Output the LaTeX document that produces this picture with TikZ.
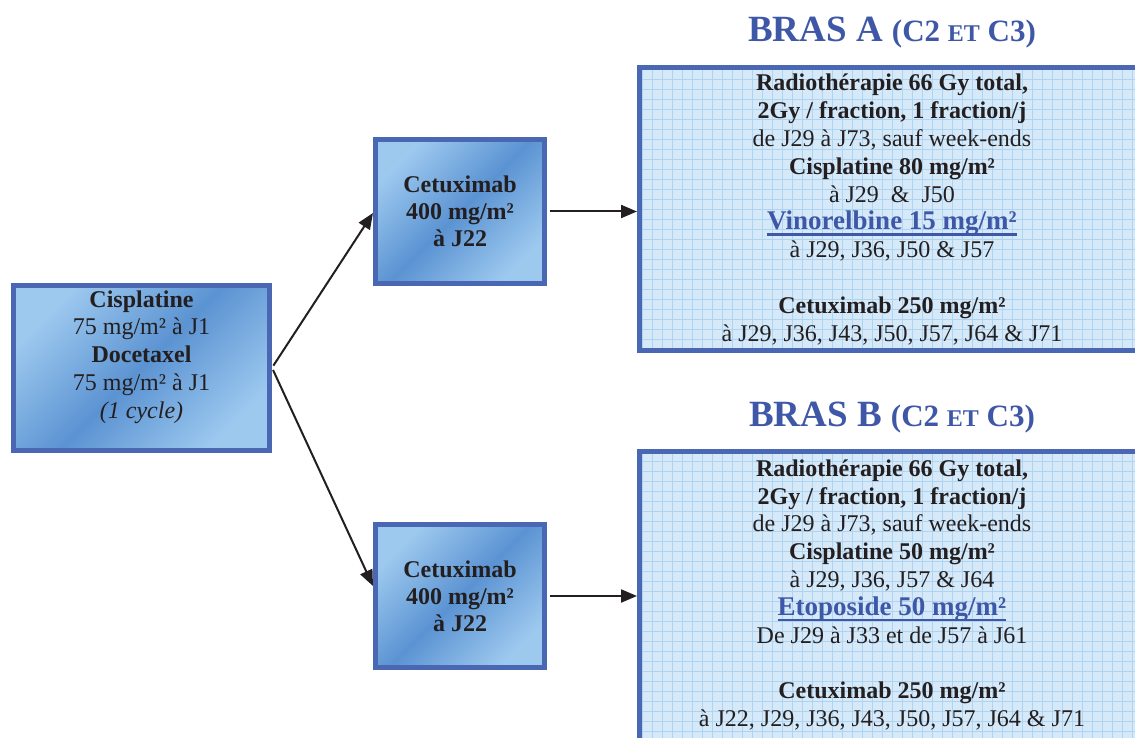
\documentclass[tikz,border=0pt]{standalone}
\usepackage{fontspec}
\setmainfont{Liberation Serif}
\usetikzlibrary{arrows.meta}
\definecolor{bord}{HTML}{4A67B4}
\definecolor{ttl}{HTML}{3E57A7}
\definecolor{lite}{HTML}{9DC9EF}
\definecolor{dark}{HTML}{5B93D2}
\definecolor{gfill}{HTML}{D6E9F9}
\definecolor{gline}{HTML}{AFD4F2}
\definecolor{gfine}{HTML}{CCE2F6}
\definecolor{ink}{HTML}{231F20}
\newsavebox\ulb
\newcommand\ulbox[1]{\sbox\ulb{#1}\rlap{\rule[-6pt]{\wd\ulb}{2.8pt}}\usebox\ulb}
\begin{document}
\begin{tikzpicture}[x=1pt,y=-1pt,
  shbox/.style={draw=bord, line width=5pt, top color=lite, bottom color=lite, middle color=dark, shading angle=45, inner sep=0pt, align=center, text=ink},
  gridbox/.style={draw=bord, line width=5pt, fill=gfill, inner sep=0pt, path picture={
     \draw[gfine, line width=0.4pt, xshift=5pt, yshift=5pt] ([shift={(-20pt,-20pt)}]path picture bounding box.south west) grid[step=10pt] ([shift={(20pt,20pt)}]path picture bounding box.north east);
     \draw[gline, line width=0.9pt] ([shift={(-20pt,-20pt)}]path picture bounding box.south west) grid[step=10pt] ([shift={(20pt,20pt)}]path picture bounding box.north east);}},
  txt/.style={align=center, inner sep=0pt, text=ink, font=\fontsize{24}{27.8}\selectfont},
  conn/.style={line width=2pt, draw=ink, shorten <=2.5pt, shorten >=0pt, -{Triangle[length=16pt,width=13pt]}},
  ttlnode/.style={text=ttl, font=\fontsize{37}{40}\selectfont\bfseries, inner sep=0pt, anchor=base}
]
\clip (0,0) rectangle (1135,738);
\fill[white] (0,0) rectangle (1135,738);

% left box
\node[shbox, minimum width=256pt, minimum height=165.5pt] (cis) at (141.5,367.75) {};
\node[txt] (cistxt) at (141.5,357) {\textbf{Cisplatine}\\75 mg/m² à J1\\\textbf{Docetaxel}\\75 mg/m² à J1\\\textit{(1 cycle)}};

% cetuximab boxes
\node[shbox, minimum width=169pt, minimum height=144pt, font=\bfseries\fontsize{24}{27}\selectfont] (c1) at (460,211.5) {Cetuximab\\400 mg/m²\\à J22};
\node[shbox, minimum width=169pt, minimum height=143pt, font=\bfseries\fontsize{24}{27}\selectfont] (c2) at (460,596) {Cetuximab\\400 mg/m²\\à J22};

% grid boxes
\node[gridbox, minimum width=505pt, minimum height=283pt] (bA) at (892,209) {};
\node[gridbox, minimum width=505pt, minimum height=300pt] (bB) at (892,601.5) {};

\node[txt] (tA) at (892,209.5) {\textbf{Radiothérapie 66 Gy total,}\\\textbf{2Gy / fraction, 1 fraction/j}\\de J29 à J73, sauf week-ends\\\textbf{Cisplatine 80 mg/m²}\\à J29 ~\&~ J50\\{\color{ttl}\bfseries\fontsize{27}{27.8}\selectfont\ulbox{Vinorelbine 15 mg/m²}}\\à J29, J36, J50 \& J57\\[27.8pt]\textbf{Cetuximab 250 mg/m²}\\à J29, J36, J43, J50, J57, J64 \& J71};

\node[txt] (tB) at (892,595) {\textbf{Radiothérapie 66 Gy total,}\\\textbf{2Gy / fraction, 1 fraction/j}\\de J29 à J73, sauf week-ends\\\textbf{Cisplatine 50 mg/m²}\\à J29, J36, J57 \& J64\\{\color{ttl}\bfseries\fontsize{27}{27.8}\selectfont\ulbox{Etoposide 50 mg/m²}}\\De J29 à J33 et de J57 à J61\\[27.8pt]\textbf{Cetuximab 250 mg/m²}\\à J22, J29, J36, J43, J50, J57, J64 \& J71};

% titles
\node[ttlnode] (ttlA) at (892,42) {BRAS A {\fontsize{31}{34}\selectfont(C2 {\fontsize{24}{26}\selectfont ET} C3)}};
\node[ttlnode] (ttlB) at (892,426) {BRAS B {\fontsize{31}{34}\selectfont(C2 {\fontsize{24}{26}\selectfont ET} C3)}};

% connectors
\draw[conn] (cis.east) -- ([yshift=-1.5pt]c1.west);
\draw[conn] (cis.east) -- ([yshift=10pt]c2.west);
\draw[conn] (c1.east) -- (c1.east -| bA.west);
\draw[conn] (c2.east) -- (c2.east -| bB.west);
\end{tikzpicture}
\end{document}
